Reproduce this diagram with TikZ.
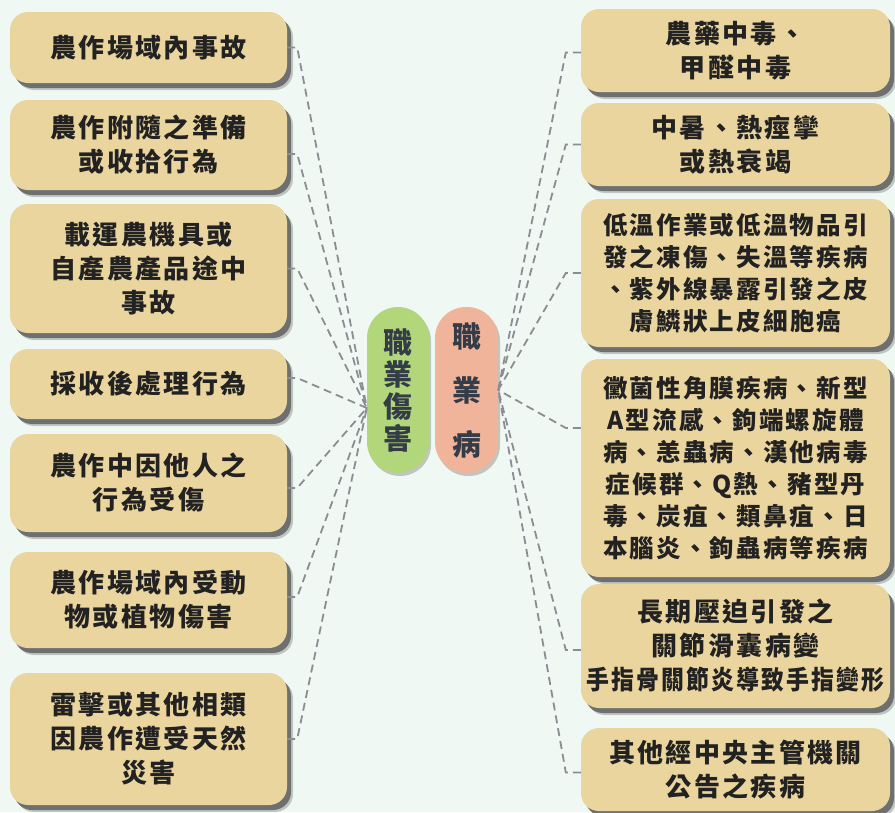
\documentclass[tikz,border=0pt]{standalone}
\usepackage{fontspec}
\usepackage{graphicx}
\newfontfamily\cjk{Noto Sans CJK TC}[LetterSpace=9]
\newfontfamily\cjkplain{Noto Sans CJK TC}
\usetikzlibrary{shadows}
\definecolor{bg}{HTML}{EFF8F3}
\definecolor{boxtan}{HTML}{EBD59E}
\definecolor{ink}{HTML}{222222}
\definecolor{slate}{HTML}{343C48}
\definecolor{leafgreen}{HTML}{B2D67A}
\definecolor{salmon}{HTML}{F0B49B}
\definecolor{linegray}{HTML}{8C8C94}

\begin{document}
\begin{tikzpicture}[x=1pt, y=-1pt,
    B/.style = {rectangle, rounded corners=18pt, fill=boxtan, text=ink,% boxes round the two pills
                inner sep=0pt, align=center,
                drop shadow={shadow xshift=6pt, shadow yshift=-7pt, fill=black, opacity=.2},
                drop shadow={shadow xshift=4pt, shadow yshift=-5pt, fill=black!70, opacity=.7}},
    L/.style = {B, minimum width=277pt},
    R/.style = {B, minimum width=309pt},
    P/.style = {rectangle, rounded corners=31pt,% the two pills in the middle
                minimum width=62pt, minimum height=166pt,
                inner sep=0pt, align=center, text=slate,
                drop shadow={shadow xshift=2pt, shadow yshift=-3pt, fill=black, opacity=.2}},
    link/.style = {draw=linegray, line width=1.8pt, dash pattern=on 8pt off 5pt},
                        ]
\useasboundingbox (0,0) rectangle (895,812);
\fill[bg] (0,0) rectangle (895,812);
% middle
\node[P, fill=leafgreen, font=\cjkplain\bfseries\fontsize{29}{32}\selectfont]
    (inj) at (398,390) {職\\業\\傷\\害};
\node[P, fill=salmon, minimum width=63pt, font=\cjkplain\bfseries\fontsize{29}{54}\selectfont]
    (dis) at (466.5,390) {職\\業\\病};
% left: occupational injury
\foreach \y/\h/\t [count=\i] in {47.5/71/{農作場域內事故},
        145/90/{農作附隨之準備\\或收拾行為},
        268.5/129/{載運農機具或\\自產農產品途中\\事故},
        384/70/{採收後處理行為},
        483/98/{農作中因他人之\\行為受傷},
        600/96/{農作場域內受動\\物或植物傷害},
        739/132/{雷擊或其他相類\\因農作遭受天然\\災害}}% <-- content of nodes
    \node[L, minimum height=\h pt, font=\cjk\bfseries\fontsize{26}{34}\selectfont]
        (L\i) at (148.5,\y) {\t};
% right: occupational disease
\foreach \y/\h/\fs/\ls/\t [count=\i] in {50.5/83/26/34/{農藥中毒、\\甲醛中毒},
        144.5/83/26/34/{中暑、熱痙攣\\或熱衰竭},
        273/148/24.5/32/{低溫作業或低溫物品引\\發之凍傷、失溫等疾病\\、紫外線暴露引發之皮\\膚鱗狀上皮細胞癌},
        468/218/24.5/32/{黴菌性角膜疾病、新型\\A型流感、鉤端螺旋體\\病、恙蟲病、漢他病毒\\症候群、Q熱、豬型丹\\毒、炭疽、類鼻疽、日\\本腦炎、鉤蟲病等疾病},
        646/124/26/34/{長期壓迫引發之\\關節滑囊病變\\\scalebox{.88}[1]{手指骨關節炎導致手指變形}},
        769.5/83/26/34/{其他經中央主管機關\\公告之疾病}}% <-- content of nodes
    \node[R, minimum height=\h pt, font=\cjk\bfseries\fontsize{\fs}{\ls}\selectfont]
        (R\i) at (735.5,\y) {\t};
% connectors
\foreach \n/\d in {L1/0,L2/-9,L3/0,L4/6,L5/-5,L6/3,L7/0}
    \draw[link] ([yshift=\d pt]\n.east) -- ++(10,0) -- ([yshift=-18pt]inj.west);
\foreach \n/\d in {R1/-2,R2/0,R3/0,R4/40,R5/-4,R6/-3}
    \draw[link] ([yshift=\d pt]\n.west) -- ++(-15,0) -- (dis.east);
\end{tikzpicture}
\end{document}
